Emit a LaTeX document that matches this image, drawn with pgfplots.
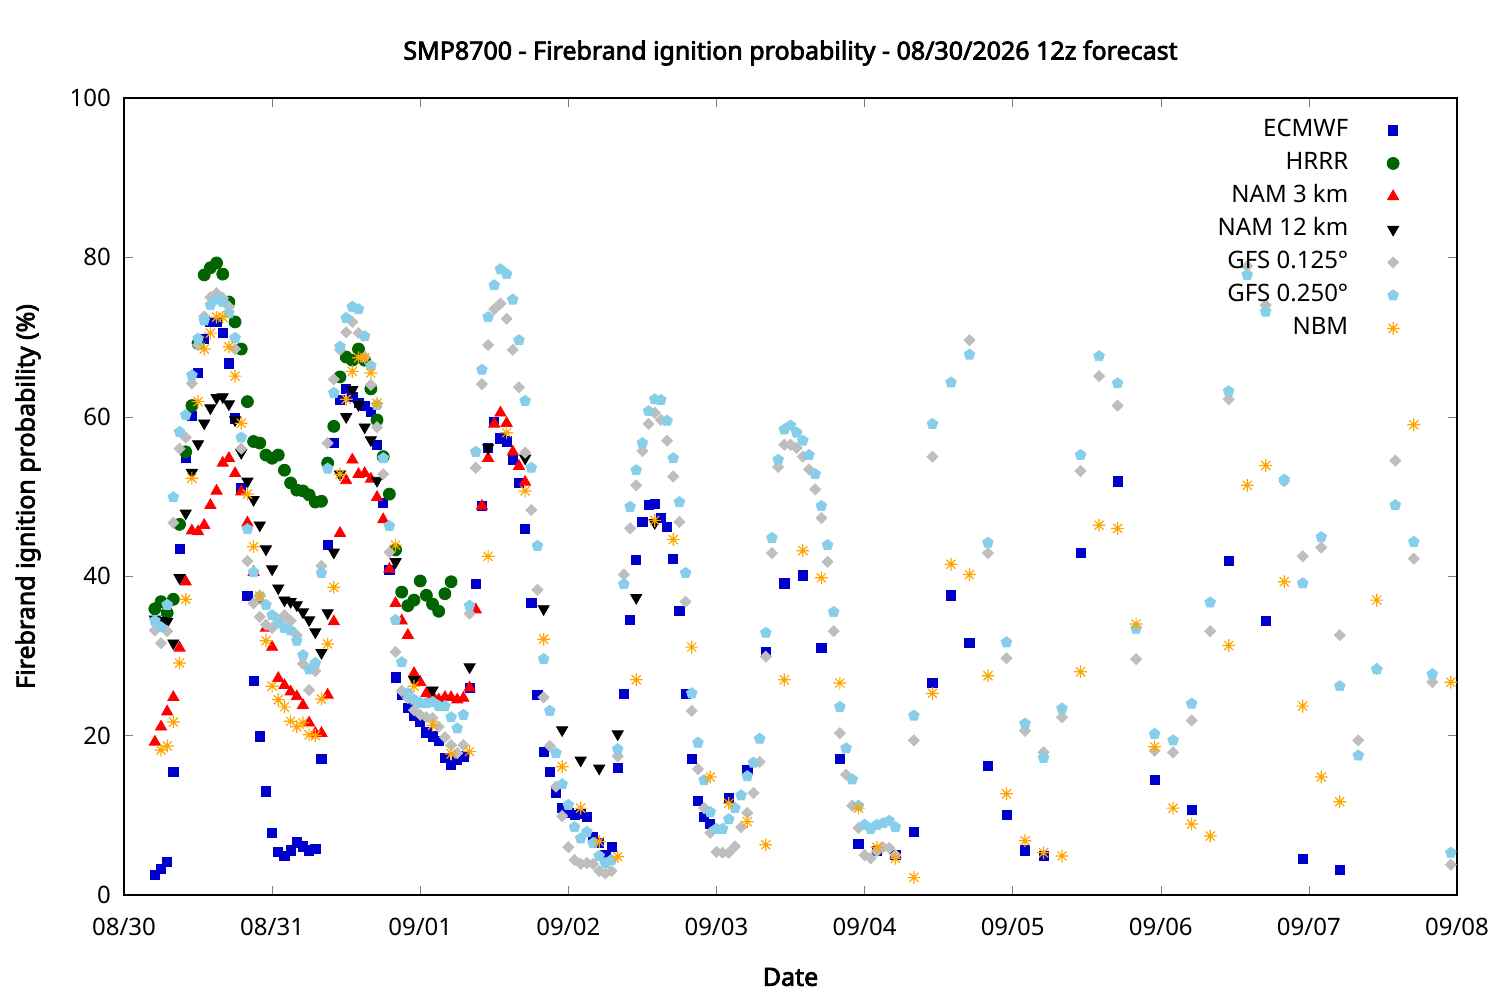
\documentclass[border=0pt]{standalone}
\usepackage{pgfplots}
\pgfplotsset{compat=1.18}
\usepackage{fontspec}
\setmainfont{Noto Sans}[AutoFakeBold=3]
\definecolor{ecm}{RGB}{0,0,205}
\definecolor{hrrr}{RGB}{0,100,0}
\definecolor{gfsa}{RGB}{190,190,190}
\definecolor{gfsb}{RGB}{135,206,235}
\definecolor{nbm}{RGB}{255,165,0}
\pgfdeclareplotmark{ast8}{%
 \pgfpathmoveto{\pgfqpoint{-\pgfplotmarksize}{0pt}}\pgfpathlineto{\pgfqpoint{\pgfplotmarksize}{0pt}}%
 \pgfpathmoveto{\pgfqpoint{0pt}{-\pgfplotmarksize}}\pgfpathlineto{\pgfqpoint{0pt}{\pgfplotmarksize}}%
 \pgfpathmoveto{\pgfqpoint{-.707\pgfplotmarksize}{-.707\pgfplotmarksize}}\pgfpathlineto{\pgfqpoint{.707\pgfplotmarksize}{.707\pgfplotmarksize}}%
 \pgfpathmoveto{\pgfqpoint{-.707\pgfplotmarksize}{.707\pgfplotmarksize}}\pgfpathlineto{\pgfqpoint{.707\pgfplotmarksize}{-.707\pgfplotmarksize}}%
 \pgfusepathqstroke}
\begin{document}
\begin{tikzpicture}
\begin{axis}[
 at={(0pt,0pt)}, anchor=south west,
 scale only axis, width=666.5pt, height=398.5pt,
 xmin=0, xmax=216, ymin=0, ymax=100,
 xtick={0,24,...,216},
 xticklabels={08/30,08/31,09/01,09/02,09/03,09/04,09/05,09/06,09/07,09/08},
 ytick={0,20,...,100},
 tick align=inside, major tick length=4.5pt,
 tick label style={font=\fontsize{12}{14}\selectfont},
 xticklabel style={yshift=-8.2pt},
 yticklabel style={xshift=-3pt},
 /pgf/number format/assume math mode=true,
 axis line style={line width=0.6pt},
 only marks,
 legend plot pos=right,
 legend cell align=right,
 legend style={at={(0.9617,0.9855)}, anchor=north east, draw=none, fill=none,
   font=\fontsize{12}{14}\selectfont, row sep=0pt, column sep=16.5pt,
   nodes={inner sep=2.75pt, text height=8.6pt, text depth=2.4pt}},
]
\addplot[mark=square*, mark size=2.3pt, color=ecm, mark options={draw=ecm, fill=ecm}] coordinates {
(5,2.5)(6,3.3)(7,4.2)(8,15.4)(9,43.4)(10,54.8)(11,60.1)(12,65.5)(13,69.8)(14,71.9)(15,71.9)(16,70.5)(17,66.7)(18,59.8)(19,51.1)(20,37.5)(21,26.9)(22,19.9)(23,13.0)(24,7.8)(25,5.4)(26,4.9)(27,5.6)(28,6.6)(29,6.1)(30,5.6)(31,5.8)(32,17.1)(33,43.9)(34,56.7)(35,62.1)(36,63.5)(37,62.5)(38,61.7)(39,61.4)(40,60.6)(41,56.5)(42,49.2)(43,40.8)(44,27.3)(45,25.1)(46,23.5)(47,22.5)(48,21.7)(49,20.4)(50,19.9)(51,19.3)(52,17.2)(53,16.3)(54,17.0)(55,17.4)(56,26.0)(57,39.0)(58,48.8)(59,56.1)(60,59.4)(61,57.3)(62,56.9)(63,54.6)(64,51.7)(65,45.9)(66,36.6)(67,25.1)(68,18.0)(69,15.4)(70,12.8)(71,10.9)(72,10.3)(73,10.0)(74,10.2)(75,9.8)(76,7.3)(77,6.5)(78,5.0)(79,6.0)(80,15.9)(81,25.2)(82,34.5)(83,42.0)(84,46.8)(85,48.9)(86,49.1)(87,47.3)(88,46.2)(89,42.2)(90,35.6)(91,25.2)(92,17.1)(93,11.8)(94,9.8)(95,8.9)(98,12.2)(101,15.7)(104,30.5)(107,39.1)(110,40.1)(113,31.0)(116,17.1)(119,6.4)(122,5.5)(125,5.0)(128,7.9)(131,26.6)(134,37.6)(137,31.6)(140,16.2)(143,10.0)(146,5.6)(149,4.9)(155,42.9)(161,51.9)(167,14.4)(173,10.7)(179,41.9)(185,34.4)(191,4.5)(197,3.1)};
\addlegendentry{ECMWF}
\addplot[mark=*, mark size=3pt, color=hrrr, mark options={draw=hrrr, fill=hrrr}] coordinates {
(5,35.9)(6,36.8)(7,35.4)(8,37.1)(9,46.5)(10,55.6)(11,61.4)(12,69.2)(13,77.8)(14,78.7)(15,79.3)(16,77.9)(17,74.4)(18,71.9)(19,68.5)(20,61.9)(21,56.9)(22,56.7)(23,55.2)(24,54.8)(25,55.2)(26,53.3)(27,51.7)(28,50.8)(29,50.7)(30,50.2)(31,49.3)(32,49.4)(33,54.2)(34,58.8)(35,65.0)(36,67.5)(37,67.1)(38,68.5)(39,67.1)(40,63.5)(41,59.6)(42,55.0)(43,50.3)(44,43.3)(45,38.0)(46,36.3)(47,37.0)(48,39.4)(49,37.6)(50,36.5)(51,35.6)(52,37.8)(53,39.3)};
\addlegendentry{HRRR}
\addplot[mark=triangle*, mark size=3.2pt, color=red, mark options={draw=red, fill=red}] coordinates {
(5,19.2)(6,21.1)(7,23.0)(8,24.8)(9,31.0)(10,39.3)(11,45.7)(12,45.6)(13,46.4)(14,48.9)(15,50.7)(16,54.2)(17,54.8)(18,52.9)(19,50.6)(20,46.7)(21,40.5)(22,37.0)(23,33.5)(24,31.1)(25,27.2)(26,26.3)(27,25.5)(28,24.9)(29,23.8)(30,21.6)(31,20.3)(32,20.3)(33,25.1)(34,34.3)(35,45.4)(36,52.0)(37,54.6)(38,52.8)(39,52.9)(40,52.2)(41,49.9)(42,47.1)(43,40.9)(44,36.6)(45,34.4)(46,32.6)(47,27.8)(48,26.7)(49,25.3)(50,25.0)(51,24.5)(52,24.8)(53,24.8)(54,24.5)(55,24.7)(56,26.0)(57,35.8)(58,48.8)(59,54.8)(60,59.1)(61,60.5)(62,59.2)(63,55.6)(64,53.8)(65,51.8)};
\addlegendentry{NAM 3 km}
\addplot[mark=triangle*, mark size=3.2pt, color=black, mark options={draw=black, fill=black, rotate=180}] coordinates {
(5,34.6)(6,34.4)(7,34.3)(8,31.6)(9,39.8)(10,47.9)(11,53.0)(12,56.6)(13,59.2)(14,61.1)(15,62.4)(16,62.5)(17,61.6)(18,59.6)(19,55.5)(20,51.9)(21,49.6)(22,46.4)(23,43.4)(24,40.9)(25,38.5)(26,37.0)(27,36.8)(28,36.4)(29,35.5)(30,34.5)(31,33.0)(32,30.4)(33,35.4)(34,43.0)(35,52.8)(36,60.0)(37,63.4)(38,61.5)(39,58.7)(40,57.1)(41,52.0)(44,41.8)(47,27.0)(50,25.7)(56,28.6)(59,56.1)(65,54.8)(68,35.9)(71,20.7)(74,16.9)(77,15.9)(80,20.2)(83,37.3)(86,46.7)};
\addlegendentry{NAM 12 km}
\addplot[mark=square*, mark size=1.95pt, color=gfsa, mark options={draw=gfsa, fill=gfsa, rotate=45}] coordinates {
(5,33.2)(6,31.6)(7,33.1)(8,46.7)(9,56.0)(10,57.4)(11,64.2)(12,69.0)(13,72.6)(14,75.0)(15,75.5)(16,74.9)(17,73.8)(18,68.5)(19,56.0)(20,41.9)(21,36.6)(22,34.9)(23,33.9)(24,33.5)(25,34.5)(26,35.1)(27,34.4)(28,32.6)(29,29.0)(30,25.7)(31,28.1)(32,41.3)(33,56.7)(34,64.7)(35,68.4)(36,70.6)(37,71.9)(38,70.5)(39,67.5)(40,64.0)(41,58.7)(42,52.8)(43,43.0)(44,30.5)(45,25.6)(46,24.7)(47,23.2)(48,22.6)(49,22.3)(50,22.2)(51,21.1)(52,19.8)(53,18.8)(54,17.8)(55,18.8)(56,35.3)(57,53.6)(58,64.1)(59,69.0)(60,73.5)(61,74.2)(62,72.3)(63,68.4)(64,63.7)(65,55.5)(66,48.3)(67,38.3)(68,24.8)(69,18.7)(70,13.6)(71,9.9)(72,6.0)(73,4.4)(74,3.9)(75,4.0)(76,3.9)(77,3.0)(78,2.7)(79,3.0)(80,17.4)(81,40.2)(82,46.0)(83,51.4)(84,55.7)(85,59.1)(86,60.5)(87,59.6)(88,57.0)(89,52.5)(90,46.8)(91,36.8)(92,23.1)(93,15.8)(94,10.9)(95,7.8)(96,5.4)(97,5.3)(98,5.3)(99,6.1)(100,8.5)(101,10.3)(102,12.8)(103,16.7)(104,29.9)(105,42.9)(106,53.7)(107,56.5)(108,56.5)(109,56.1)(110,55.0)(111,53.4)(112,50.9)(113,47.3)(114,41.8)(115,33.1)(116,20.3)(117,15.1)(118,11.2)(119,8.4)(120,5.0)(121,4.6)(122,5.5)(123,6.0)(124,5.9)(125,5.0)(128,19.4)(131,55.0)(137,69.6)(140,42.9)(143,29.7)(146,20.6)(149,17.9)(152,22.3)(155,53.2)(158,65.1)(161,61.4)(164,29.6)(167,18.1)(170,17.9)(173,21.9)(176,33.1)(179,62.2)(182,78.9)(185,74.0)(188,51.9)(191,42.5)(194,43.6)(197,32.6)(200,19.4)(203,28.4)(206,54.5)(209,42.2)(212,26.7)(215,3.8)};
\addlegendentry{GFS 0.125°}
\addplot[mark=pentagon*, mark size=2.8pt, color=gfsb, mark options={draw=gfsb, fill=gfsb}] coordinates {
(5,34.4)(6,33.6)(7,36.4)(8,49.9)(9,58.1)(10,60.2)(11,65.2)(12,69.8)(13,72.1)(14,74.0)(15,74.7)(16,74.4)(17,73.0)(18,69.9)(19,57.4)(20,45.9)(21,40.5)(22,37.5)(23,36.4)(24,35.1)(25,34.1)(26,33.5)(27,33.2)(28,31.9)(29,30.1)(30,28.3)(31,29.1)(32,40.4)(33,53.5)(34,63.0)(35,68.8)(36,72.4)(37,73.8)(38,73.5)(39,70.1)(40,66.4)(41,61.5)(42,54.8)(43,46.3)(44,34.5)(45,29.2)(46,25.3)(47,24.5)(48,24.1)(49,24.1)(50,24.2)(51,23.7)(52,23.7)(53,22.3)(54,20.9)(55,22.6)(56,36.3)(57,55.6)(58,65.9)(59,72.5)(60,76.5)(61,78.5)(62,77.9)(63,74.7)(64,69.6)(65,62.0)(66,53.6)(67,43.8)(68,29.6)(69,23.1)(70,17.8)(71,13.9)(72,11.3)(73,8.5)(74,7.1)(75,7.9)(76,6.5)(77,4.9)(78,4.0)(79,4.4)(80,18.3)(81,39.0)(82,48.7)(83,53.3)(84,56.7)(85,60.7)(86,62.2)(87,62.1)(88,59.5)(89,54.8)(90,49.3)(91,40.4)(92,25.3)(93,19.1)(94,14.4)(95,10.4)(96,8.3)(97,8.3)(98,9.5)(99,10.9)(100,12.5)(101,14.9)(102,16.6)(103,19.6)(104,32.9)(105,44.8)(106,54.6)(107,58.4)(108,58.9)(109,58.0)(110,57.0)(111,55.2)(112,52.8)(113,48.8)(114,43.9)(115,35.5)(116,23.6)(117,18.4)(118,14.5)(119,11.2)(120,8.8)(121,8.3)(122,8.8)(123,9.0)(124,9.3)(125,8.5)(128,22.5)(131,59.1)(134,64.3)(137,67.8)(140,44.2)(143,31.7)(146,21.5)(149,17.2)(152,23.4)(155,55.2)(158,67.6)(161,64.2)(164,33.4)(167,20.2)(170,19.4)(173,24.0)(176,36.7)(179,63.2)(182,77.8)(185,73.2)(188,52.1)(191,39.1)(194,44.9)(197,26.2)(200,17.5)(203,28.3)(206,48.9)(209,44.3)(212,27.7)(215,5.3)};
\addlegendentry{GFS 0.250°}
\addplot[mark=ast8, mark size=3.2pt, color=nbm, mark options={draw=nbm, line width=0.6pt}] coordinates {
(6,18.2)(7,18.7)(8,21.7)(9,29.1)(10,37.1)(11,52.3)(12,61.9)(13,68.5)(14,70.5)(15,72.5)(16,72.5)(17,68.8)(18,65.1)(19,59.2)(20,50.3)(21,43.7)(22,37.5)(23,31.9)(24,26.2)(25,24.5)(26,23.6)(27,21.8)(28,21.1)(29,21.6)(30,20.1)(31,20.0)(32,24.6)(33,31.5)(34,38.6)(35,52.8)(36,62.2)(37,65.7)(38,67.4)(39,67.4)(40,65.5)(41,61.7)(44,43.9)(47,26.2)(50,21.3)(53,17.7)(56,18.0)(59,42.5)(62,58.0)(65,50.7)(68,32.1)(71,16.1)(74,10.9)(77,6.7)(80,4.8)(83,27.0)(86,47.0)(89,44.6)(92,31.1)(95,14.8)(98,11.5)(101,9.2)(104,6.3)(107,27.0)(110,43.2)(113,39.8)(116,26.6)(119,10.9)(122,6.0)(125,4.6)(128,2.2)(131,25.3)(134,41.5)(137,40.2)(140,27.5)(143,12.7)(146,6.8)(149,5.3)(152,4.9)(155,28.0)(158,46.4)(161,46.0)(164,34.0)(167,18.6)(170,10.9)(173,8.9)(176,7.4)(179,31.3)(182,51.4)(185,53.9)(188,39.3)(191,23.7)(194,14.8)(197,11.7)(203,37.0)(209,59.0)(215,26.7)};
\addlegendentry{NBM}
\end{axis}
\node[font=\bfseries\fontsize{12.5}{14}\selectfont] at (333.25pt,421pt) {SMP8700 - Firebrand ignition probability - 08/30/2026 12z forecast};
\node[font=\bfseries\fontsize{12.5}{14}\selectfont] at (333.25pt,-41pt) {Date};
\node[font=\bfseries\fontsize{12.5}{14}\selectfont, rotate=90] at (-48pt,199.25pt) {Firebrand ignition probability (\%)};
\pgfresetboundingbox
\path[use as bounding box] (-62pt,-52.5pt) rectangle (688pt,447.5pt);
\end{tikzpicture}
\end{document}
